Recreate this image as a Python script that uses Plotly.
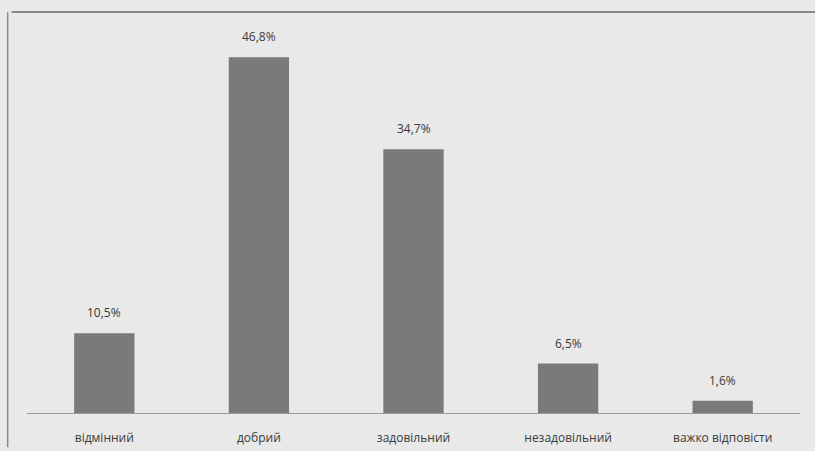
import plotly.graph_objects as go

categories = ["відмінний", "добрий", "задовільний", "незадовільний", "важко відповісти"]
values = [10.5, 46.8, 34.7, 6.5, 1.6]
labels = ["10,5%", "46,8%", "34,7%", "6,5%", "1,6%"]

fig = go.Figure(go.Bar(
    x=categories, y=values,
    marker=dict(color="#7a7a7a", line=dict(width=0)),
    width=0.39, cliponaxis=False,
))
for c, v, t in zip(categories, values, labels):
    fig.add_annotation(x=c, y=v, text=t, showarrow=False, yanchor="bottom", yshift=10,
                       font=dict(family="Open Sans, sans-serif", size=12, color="#3a3a3a"))
fig.update_layout(
    width=815, height=451,
    margin=dict(l=27, r=15, t=33, b=38, autoexpand=False),
    paper_bgcolor="#e9e9e9", plot_bgcolor="#e9e9e9",
    showlegend=False,
    font=dict(family="Open Sans, sans-serif", size=12, color="#3a3a3a"),
    xaxis=dict(showline=True, linecolor="#9a9a9a", linewidth=1, ticks="",
               ticklabelstandoff=14, automargin=False,
               tickfont=dict(size=12, color="#3a3a3a"), showgrid=False),
    yaxis=dict(range=[0, 50], visible=False, showgrid=False),
)
fig.add_shape(type="line", xref="paper", yref="paper", x0=-0.02, x1=1.02, y0=1.055, y1=1.055,
              line=dict(color="#6a6a6a", width=1.5))
fig.add_shape(type="line", xref="paper", yref="paper", x0=-0.025, x1=-0.025, y0=-0.09, y1=1.055,
              line=dict(color="#8a8a8a", width=1.5))
fig.write_html("out.html")
